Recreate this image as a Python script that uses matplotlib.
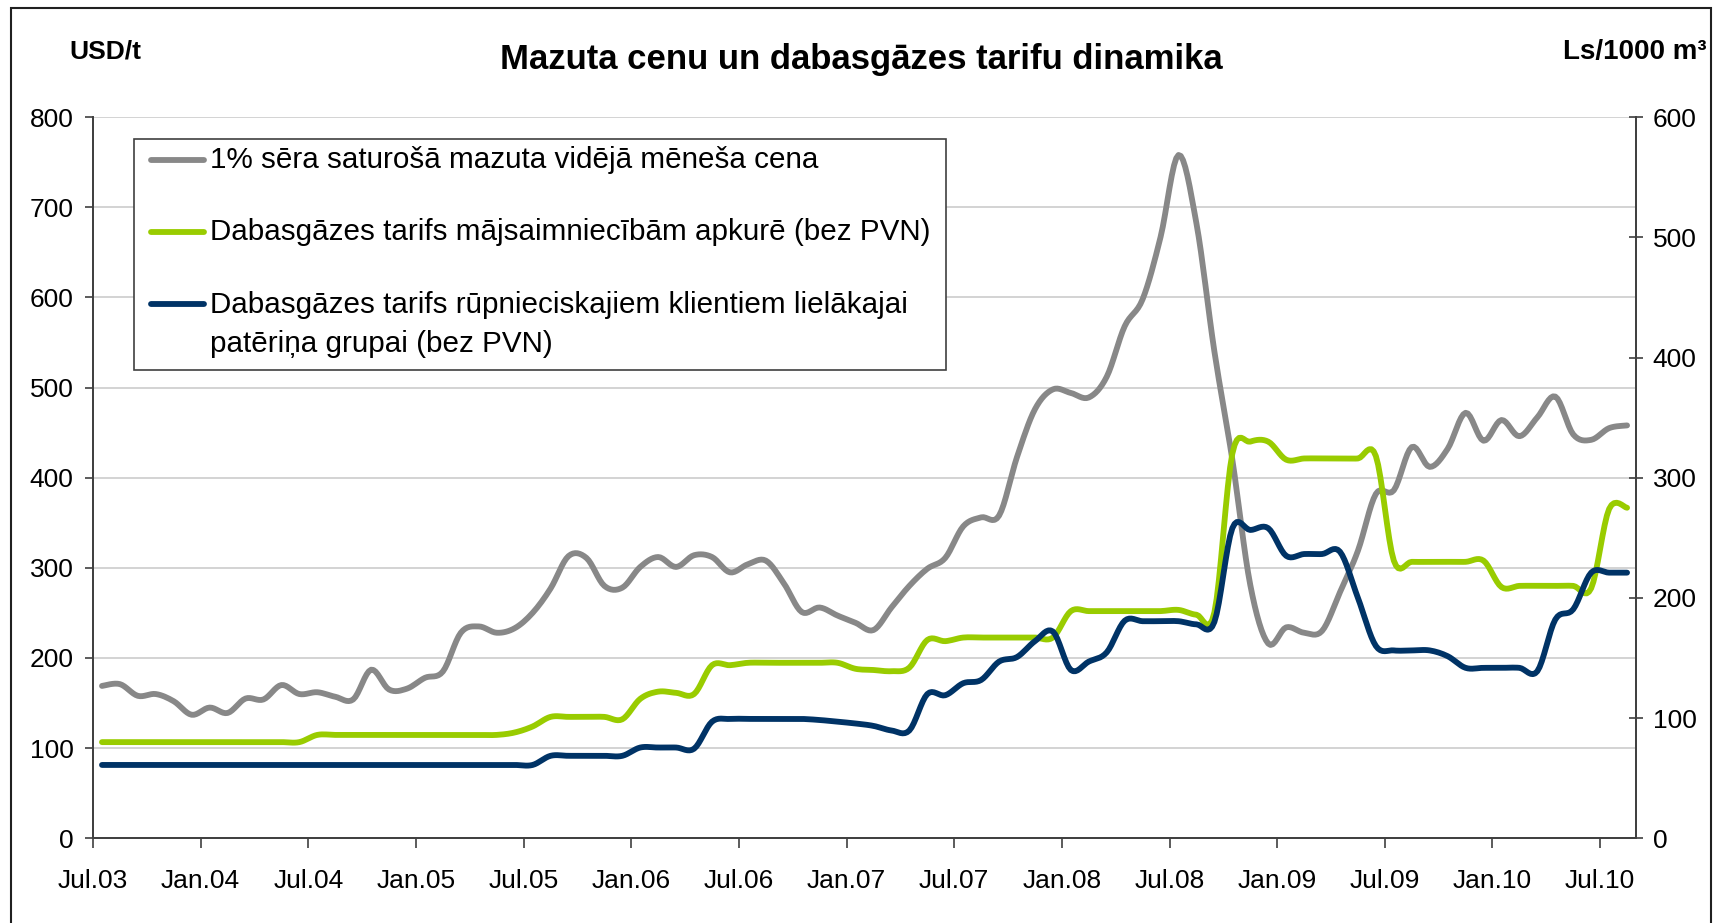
import matplotlib.pyplot as plt
import numpy as np
from matplotlib.lines import Line2D
from matplotlib.patches import Rectangle

plt.rcParams['font.family'] = ['Liberation Sans', 'DejaVu Sans']

# Monthly data, Jul 2003 .. Aug 2010
mazut = [169, 171, 158, 160, 152, 137, 145, 139, 155, 154, 170, 160,
         162, 157, 154, 187, 165, 166, 178, 185, 228, 235, 228, 233,
         250, 277, 313, 311, 280, 278, 301, 312, 301, 314, 312, 295,
         304, 308, 283, 251, 256, 247, 239, 231, 256, 280, 299, 311,
         346, 356, 358, 423, 476, 498, 494, 489, 512, 568, 598, 667,
         758, 682, 540, 420, 281, 216, 234, 228, 230, 273, 319, 382,
         386, 434, 412, 432, 472, 441, 464, 446, 467, 490, 448, 442,
         455, 458]
gas_house = [80, 80, 80, 80, 80, 80, 80, 80, 80, 80, 80, 80,
             86, 86, 86, 86, 86, 86, 86, 86, 86, 86, 86, 88,
             93, 101, 101, 101, 101, 99, 116, 122, 121, 120, 144, 144,
             146, 146, 146, 146, 146, 146, 141, 140, 139, 142, 165, 164,
             167, 167, 167, 167, 167, 167, 189, 189, 189, 189, 189, 189,
             190, 186, 188, 320, 330, 330, 315, 316, 316, 316, 316, 318,
             231, 230, 230, 230, 230, 231, 209, 210, 210, 210, 210, 208,
             274, 275]
gas_industry = [61, 61, 61, 61, 61, 61, 61, 61, 61, 61, 61, 61,
                61, 61, 61, 61, 61, 61, 61, 61, 61, 61, 61, 61,
                61, 68.6, 68.6, 68.6, 68.6, 68.6, 75.5, 75.5, 75.5, 74.5, 97, 99.3,
                99.3, 99.3, 99.3, 99.3, 98.4, 97, 95.5, 93.5, 89.7, 89.7, 120, 119,
                129, 131.7, 147, 150.8, 164, 172, 140, 147, 154.7, 181, 180.6, 180.6,
                180.6, 178, 180, 258, 256.5, 258, 235, 236.5, 236.5, 238.4, 200, 160,
                156.3, 156.3, 156.3, 151.5, 141.8, 141.8, 141.8, 141.8, 139, 182, 190.5, 221,
                221, 221]
tick_labels = ['Jul.03', 'Jan.04', 'Jul.04', 'Jan.05', 'Jul.05', 'Jan.06', 'Jul.06', 'Jan.07',
               'Jul.07', 'Jan.08', 'Jul.08', 'Jan.09', 'Jul.09', 'Jan.10', 'Jul.10']
labels = ['1% sēra saturošā mazuta vidējā mēneša cena',
          'Dabasgāzes tarifs mājsaimniecībām apkurē (bez PVN)',
          'Dabasgāzes tarifs rūpnieciskajiem klientiem lielākajai\npatēriņa grupai (bez PVN)']


def smooth(xs, ys, n=8):
    # Catmull-Rom curve through the points, like Excel's "smoothed line"
    res = []
    for p in (np.asarray(xs, float), np.asarray(ys, float)):
        p = np.r_[p[0], p, p[-1]]
        t = np.linspace(0, 1, n, endpoint=False)[:, None]
        p0, p1, p2, p3 = p[:-3], p[1:-2], p[2:-1], p[3:]
        seg = 0.5 * (2 * p1 + (-p0 + p2) * t + (2 * p0 - 5 * p1 + 4 * p2 - p3) * t ** 2
                     + (-p0 + 3 * p1 - 3 * p2 + p3) * t ** 3)
        res.append(np.r_[seg.T.ravel(), p[-2]])
    return res[0], res[1]


x = np.arange(len(mazut)) + 0.5
c_gray, c_green, c_navy = '#888888', '#99cc00', '#003366'
spine_c = '#404040'

fig = plt.figure(figsize=(17.16, 9.23), dpi=100)
ax = fig.add_axes([0.0542, 0.0918, 0.8992, 0.7813])
ax2 = ax.twinx()

ax.plot(*smooth(x, mazut), color=c_gray, lw=4.2, solid_joinstyle='round', solid_capstyle='round')
ax2.plot(*smooth(x, gas_house), color=c_green, lw=4.2, solid_joinstyle='round', solid_capstyle='round')
ax2.plot(*smooth(x, gas_industry), color=c_navy, lw=4.2, solid_joinstyle='round', solid_capstyle='round')

ax.set_xlim(0, 86)
ax.set_ylim(0, 800)
ax2.set_ylim(0, 600)
ax.set_yticks(range(0, 801, 100))
ax2.set_yticks(range(0, 601, 100))
ax.set_xticks(range(0, 85, 6))
ax.set_xticklabels(tick_labels)

ax.grid(axis='y', color='#d0d0d0', lw=1.3)
ax.set_axisbelow(True)
for a in (ax, ax2):
    a.spines['top'].set_visible(False)
    for s in ('left', 'right', 'bottom'):
        a.spines[s].set_color(spine_c)
        a.spines[s].set_linewidth(1.3)

ax.tick_params(axis='y', direction='out', length=6, width=1.2, color=spine_c, labelsize=19, pad=8)
ax.tick_params(axis='x', direction='out', length=7, width=1.2, color=spine_c, labelsize=19, pad=15)
ax2.tick_params(axis='y', direction='inout', length=10, width=1.2, color=spine_c, labelsize=19, pad=7)

fig.text(0.502, 0.936, 'Mazuta cenu un dabasgāzes tarifu dinamika', ha='center', va='center',
         fontsize=25, fontweight='bold')
fig.text(0.0402, 0.944, 'USD/t', ha='left', va='center', fontsize=19, fontweight='bold')
fig.text(0.911, 0.944, 'Ls/1000 m³', ha='left', va='center', fontsize=20, fontweight='bold')

# legend box drawn by hand so the handle sits on the first line
fig.patches.append(Rectangle((0.0778, 0.5991), 0.4733, 0.2503, transform=fig.transFigure,
                             facecolor='white', edgecolor=spine_c, lw=1.2, zorder=5))
ys = [1 - 159.8 / 923, 1 - 232 / 923, 1 - 304.2 / 923]
for y, lab, c in zip(ys, labels, [c_gray, c_green, c_navy]):
    fig.lines.append(Line2D([0.088, 0.1187], [y, y], transform=fig.transFigure, color=c,
                            lw=4.2, solid_capstyle='round', zorder=6))
    fig.text(0.1224, y + 0.0148, lab, ha='left', va='top', fontsize=21.3, linespacing=1.5, zorder=6)

# outer frame
fig.patches.append(Rectangle((0.0064, -0.05), 0.9907, 1.0413, transform=fig.transFigure,
                             fill=False, edgecolor='#202020', lw=1.5))

fig.savefig('out.png', dpi=100)
